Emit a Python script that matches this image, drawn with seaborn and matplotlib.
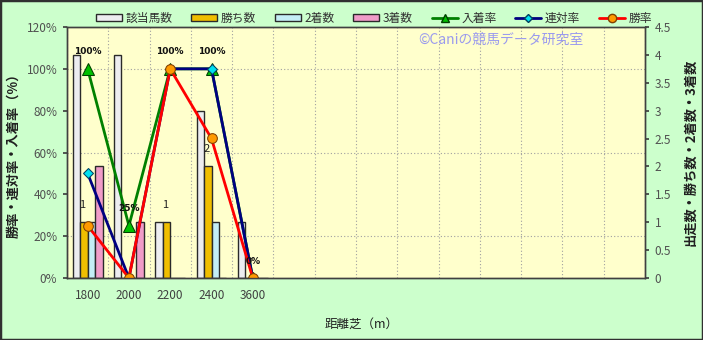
import numpy as np
import pandas as pd
import matplotlib
matplotlib.use("Agg")
import matplotlib.pyplot as plt
from matplotlib.patches import Patch, Rectangle
from matplotlib.lines import Line2D
from matplotlib.ticker import MultipleLocator, FixedLocator
import seaborn as sns

# ---- data ----
distances = ["1800", "2000", "2200", "2400", "3600"]
n_slots = 14
runners = [4, 4, 1, 3, 1]      # 該当馬数
wins = [1, 0, 1, 2, 0]         # 勝ち数
seconds = [1, 0, 0, 1, 0]      # 2着数
thirds = [2, 1, 0, 0, 0]       # 3着数
place_rate = [100, 25, 100, 100, 0]      # 入着率
rentai_rate = [50, 0, 100, 100, 0]       # 連対率
win_rate = [25, 0, 100, 66.7, 0]         # 勝率
place_labels = ["100%", "25%", "100%", "100%", "0%"]

bar_series = ["該当馬数", "勝ち数", "2着数", "3着数"]
bar_colors = ["#EDEDF0", "#F0BE00", "#C4EEF6", "#F09CC8"]

sns.set_theme(style="white")
plt.rcParams["font.family"] = ["Noto Sans CJK JP", "DejaVu Sans"]

df = pd.DataFrame({
    "距離": distances * 4,
    "系列": sum([[s] * len(distances) for s in bar_series], []),
    "値": runners + wins + seconds + thirds,
})

fig = plt.figure(figsize=(7.03, 3.40), dpi=100, facecolor="#CCFFCC")
ax = fig.add_axes([67 / 703, 1 - 278 / 340, 578 / 703, 251 / 340])
ax.set_facecolor("#FFFFCC")

sns.barplot(data=df, x="距離", y="値", hue="系列", order=distances,
            hue_order=bar_series, palette=bar_colors, width=0.72,
            edgecolor="#2a2a2a", linewidth=1, ax=ax, legend=False,
            errorbar=None, saturation=1)

ax2 = ax.twinx()

ax.set_xlim(-0.5, n_slots - 0.5)
ax.set_ylim(0, 4.5)
ax.yaxis.tick_right()
ax.yaxis.set_label_position("right")
ax.set_yticks(np.arange(0, 4.51, 0.5))
ax.set_yticklabels(["0", "0.5", "1", "1.5", "2", "2.5", "3", "3.5", "4", "4.5"])
ax.yaxis.set_minor_locator(MultipleLocator(0.75))
ax.xaxis.set_minor_locator(FixedLocator(np.arange(-0.5, n_slots, 1)))
ax.grid(which="minor", axis="both", color="#A0A0A0", linestyle=(0, (1, 2)), linewidth=0.8)
ax.grid(which="major", visible=False)
ax.set_axisbelow(True)
ax.tick_params(axis="y", which="major", left=False, right=True, labelleft=False,
               labelright=True, length=3, direction="out",
               labelsize=8.5, colors="#404040", pad=4)
ax.tick_params(axis="y", labelcolor="#505050")
ax.tick_params(axis="both", which="minor", length=0)
ax.tick_params(axis="x", which="major", length=0, labelsize=8.5, labelcolor="#404040", pad=8)
ax.set_ylabel("出走数・勝ち数・2着数・3着数", fontsize=9.5, fontweight="bold", color="#202020")
ax.yaxis.set_label_coords(1.066, 0.5)
ax.set_xlabel("距離芝（m）", fontsize=9, color="#202020")
ax.xaxis.set_label_coords(0.51, -0.16)

# labels on win bars
win_container = ax.containers[1]
for rect, v in zip(win_container, wins):
    if v > 0:
        ax.annotate(str(v), (rect.get_x() + rect.get_width() / 2, rect.get_height()),
                    xytext=(-1, 9), textcoords="offset points", ha="center", va="bottom",
                    fontsize=8, color="#202020")

# ---- lines ----
pos = np.arange(len(distances))
sns.lineplot(x=pos, y=place_rate, color="#008000", lw=2, marker="^", markersize=8,
             markerfacecolor="#00C000", markeredgecolor="#004000", ax=ax2)
sns.lineplot(x=pos, y=rentai_rate, color="#000080", lw=2, marker="D", markersize=5,
             markerfacecolor="#00E0F0", markeredgecolor="#004060", ax=ax2)
sns.lineplot(x=pos, y=win_rate, color="#FF0000", lw=2, marker="o", markersize=7,
             markerfacecolor="#FF9900", markeredgecolor="#804000", ax=ax2)
ax2.set_ylim(0, 120)
ax2.set_xlim(-0.5, n_slots - 0.5)
ax2.yaxis.tick_left()
ax2.yaxis.set_label_position("left")
ax2.set_yticks(np.arange(0, 121, 20))
ax2.set_yticklabels([f"{v}%" for v in range(0, 121, 20)])
ax2.tick_params(axis="y", left=True, right=False, labelleft=True, labelright=False,
                length=3, direction="out", labelsize=8.5, colors="#404040", pad=4)
ax2.tick_params(axis="y", labelcolor="#505050")
ax2.set_ylabel("勝率・連対率・入着率（%）", fontsize=9.5, fontweight="bold", color="#202020")
ax2.yaxis.set_label_coords(-0.081, 0.5)
ax2.grid(False)

for p, v, t in zip(pos, place_rate, place_labels):
    ax2.annotate(t, (p, v), xytext=(0, 9), textcoords="offset points", ha="center",
                 va="bottom", fontsize=6.5, fontweight="bold", color="#101010",
                 family="DejaVu Sans")

for a in (ax, ax2):
    for s in a.spines.values():
        s.set_color("#404040")
        s.set_linewidth(1)

ax2.text(0.75, 0.95, "©Caniの競馬データ研究室", transform=ax2.transAxes, ha="center",
         va="center", fontsize=10, color="#9A9AEE")

handles = [Patch(facecolor=c, edgecolor="#2a2a2a", linewidth=1) for c in bar_colors] + [
    Line2D([], [], color="#008000", lw=2, marker="^", markersize=6,
           markerfacecolor="#00C000", markeredgecolor="#004000"),
    Line2D([], [], color="#000080", lw=2, marker="D", markersize=4,
           markerfacecolor="#00E0F0", markeredgecolor="#004060"),
    Line2D([], [], color="#FF0000", lw=2, marker="o", markersize=6,
           markerfacecolor="#FF9900", markeredgecolor="#804000"),
]
labels = bar_series + ["入着率", "連対率", "勝率"]
fig.legend(handles, labels, loc="center", bbox_to_anchor=(0.532, 0.947), ncol=7,
           frameon=False, fontsize=8.5, handlelength=2.2, handleheight=0.5,
           handletextpad=0.3, columnspacing=1.6, labelcolor="#303030")

fig.patches.append(Rectangle((0, 0), 1, 1, transform=fig.transFigure, fill=False,
                             edgecolor="#303030", linewidth=2.5))

fig.savefig("out.png", dpi=100, facecolor=fig.get_facecolor())
